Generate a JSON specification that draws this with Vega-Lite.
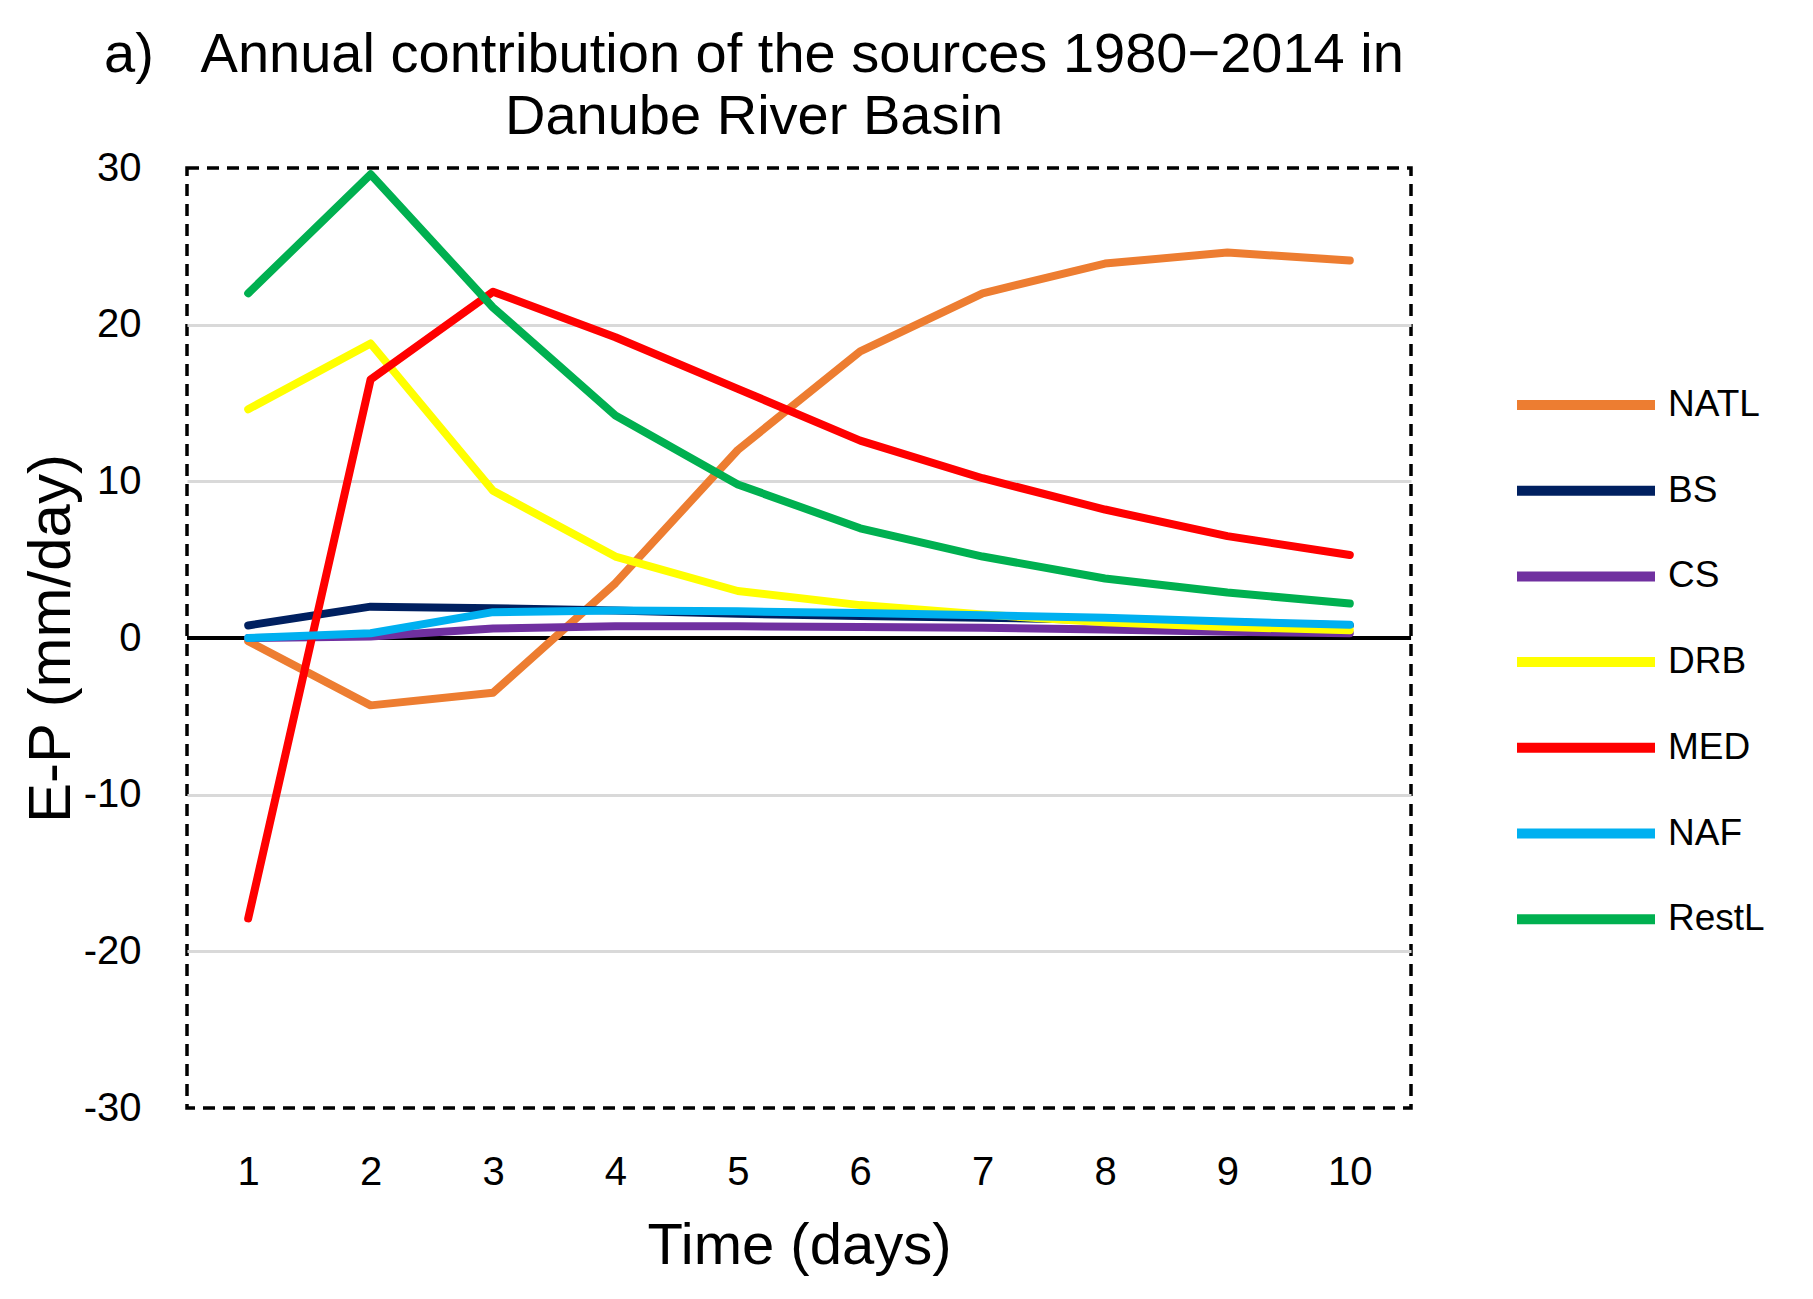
{
  "$schema": "https://vega.github.io/schema/vega-lite/v6.json",
  "width": 1224,
  "height": 940,
  "autosize": "none",
  "padding": {"left": 187, "top": 168, "right": 402, "bottom": 191},
  "background": "white",
  "title": {
    "text": ["a)\u00a0\u00a0\u00a0Annual contribution of the sources 1980\u22122014 in", "Danube River Basin"],
    "font": "Liberation Sans",
    "fontSize": 56,
    "fontWeight": "normal",
    "lineHeight": 62,
    "anchor": "middle",
    "baseline": "top",
    "dx": -45,
    "dy": 38,
    "offset": 40,
    "color": "black"
  },
  "config": {
    "view": {"stroke": "black", "strokeDash": [12, 8], "strokeWidth": 3.5},
    "font": "Liberation Sans"
  },
  "data": {
    "values": [
      {"day": 1, "source": "NATL", "ep": -0.2},
      {"day": 2, "source": "NATL", "ep": -4.3},
      {"day": 3, "source": "NATL", "ep": -3.5},
      {"day": 4, "source": "NATL", "ep": 3.5},
      {"day": 5, "source": "NATL", "ep": 12.0},
      {"day": 6, "source": "NATL", "ep": 18.3},
      {"day": 7, "source": "NATL", "ep": 22.0},
      {"day": 8, "source": "NATL", "ep": 23.9},
      {"day": 9, "source": "NATL", "ep": 24.6},
      {"day": 10, "source": "NATL", "ep": 24.1},
      {"day": 1, "source": "BS", "ep": 0.8},
      {"day": 2, "source": "BS", "ep": 2.0},
      {"day": 3, "source": "BS", "ep": 1.9},
      {"day": 4, "source": "BS", "ep": 1.75},
      {"day": 5, "source": "BS", "ep": 1.55},
      {"day": 6, "source": "BS", "ep": 1.4},
      {"day": 7, "source": "BS", "ep": 1.3},
      {"day": 8, "source": "BS", "ep": 1.15},
      {"day": 9, "source": "BS", "ep": 1.0},
      {"day": 10, "source": "BS", "ep": 0.8},
      {"day": 1, "source": "CS", "ep": 0.0},
      {"day": 2, "source": "CS", "ep": 0.1},
      {"day": 3, "source": "CS", "ep": 0.6},
      {"day": 4, "source": "CS", "ep": 0.75},
      {"day": 5, "source": "CS", "ep": 0.75},
      {"day": 6, "source": "CS", "ep": 0.7},
      {"day": 7, "source": "CS", "ep": 0.65},
      {"day": 8, "source": "CS", "ep": 0.55},
      {"day": 9, "source": "CS", "ep": 0.4},
      {"day": 10, "source": "CS", "ep": 0.3},
      {"day": 1, "source": "DRB", "ep": 14.6},
      {"day": 2, "source": "DRB", "ep": 18.8},
      {"day": 3, "source": "DRB", "ep": 9.4},
      {"day": 4, "source": "DRB", "ep": 5.2},
      {"day": 5, "source": "DRB", "ep": 3.0},
      {"day": 6, "source": "DRB", "ep": 2.1},
      {"day": 7, "source": "DRB", "ep": 1.5},
      {"day": 8, "source": "DRB", "ep": 1.0},
      {"day": 9, "source": "DRB", "ep": 0.7},
      {"day": 10, "source": "DRB", "ep": 0.5},
      {"day": 1, "source": "MED", "ep": -17.9},
      {"day": 2, "source": "MED", "ep": 16.5},
      {"day": 3, "source": "MED", "ep": 22.1},
      {"day": 4, "source": "MED", "ep": 19.2},
      {"day": 5, "source": "MED", "ep": 15.9},
      {"day": 6, "source": "MED", "ep": 12.6},
      {"day": 7, "source": "MED", "ep": 10.2},
      {"day": 8, "source": "MED", "ep": 8.2},
      {"day": 9, "source": "MED", "ep": 6.5},
      {"day": 10, "source": "MED", "ep": 5.3},
      {"day": 1, "source": "NAF", "ep": 0.0},
      {"day": 2, "source": "NAF", "ep": 0.3},
      {"day": 3, "source": "NAF", "ep": 1.65},
      {"day": 4, "source": "NAF", "ep": 1.75},
      {"day": 5, "source": "NAF", "ep": 1.7},
      {"day": 6, "source": "NAF", "ep": 1.6},
      {"day": 7, "source": "NAF", "ep": 1.45},
      {"day": 8, "source": "NAF", "ep": 1.3},
      {"day": 9, "source": "NAF", "ep": 1.05},
      {"day": 10, "source": "NAF", "ep": 0.85},
      {"day": 1, "source": "RestL", "ep": 22.0},
      {"day": 2, "source": "RestL", "ep": 29.6},
      {"day": 3, "source": "RestL", "ep": 21.1},
      {"day": 4, "source": "RestL", "ep": 14.2},
      {"day": 5, "source": "RestL", "ep": 9.8},
      {"day": 6, "source": "RestL", "ep": 7.0},
      {"day": 7, "source": "RestL", "ep": 5.2},
      {"day": 8, "source": "RestL", "ep": 3.8},
      {"day": 9, "source": "RestL", "ep": 2.9},
      {"day": 10, "source": "RestL", "ep": 2.2}
    ]
  },
  "layer": [
    {
      "mark": {"type": "rule", "color": "black", "strokeWidth": 2.5},
      "encoding": {"y": {"datum": 0, "type": "quantitative"}}
    },
    {
      "mark": {"type": "line", "strokeWidth": 8, "strokeCap": "round", "strokeJoin": "round"},
      "encoding": {
        "x": {
          "field": "day",
          "type": "quantitative",
          "scale": {"domain": [0.5, 10.5], "nice": false, "zero": false},
          "axis": {
            "values": [1, 2, 3, 4, 5, 6, 7, 8, 9, 10],
            "title": "Time (days)",
            "titleFont": "Liberation Sans",
            "titleFontSize": 58,
            "titleFontWeight": "normal",
            "titleColor": "black",
            "titleBaseline": "alphabetic",
            "titleY": 155,
            "labelFontSize": 40,
            "labelColor": "black",
            "labelPadding": 44,
            "labelFlush": false,
            "domain": false,
            "ticks": false,
            "grid": false
          }
        },
        "y": {
          "field": "ep",
          "type": "quantitative",
          "scale": {"domain": [-30, 30], "nice": false},
          "axis": {
            "values": [-30, -20, -10, 0, 10, 20, 30],
            "labelExpr": "toString(datum.value)",
            "title": "E-P (mm/day)",
            "titleFont": "Liberation Sans",
            "titleFontSize": 60,
            "titleFontWeight": "normal",
            "titleColor": "black",
            "titleBaseline": "alphabetic",
            "titleX": -118,
            "titleY": 470,
            "labelFontSize": 40,
            "labelColor": "black",
            "labelPadding": 46,
            "domain": false,
            "ticks": false,
            "grid": true,
            "gridColor": {
              "condition": {"test": "abs(datum.value) == 30", "value": "transparent"},
              "value": "#D9D9D9"
            },
            "gridWidth": 3
          }
        },
        "color": {
          "field": "source",
          "type": "nominal",
          "sort": ["NATL", "BS", "CS", "DRB", "MED", "NAF", "RestL"],
          "scale": {
            "domain": ["NATL", "BS", "CS", "DRB", "MED", "NAF", "RestL"],
            "range": ["#ED7D31", "#002060", "#7030A0", "#FFFF00", "#FF0000", "#00B0F0", "#00B050"]
          },
          "legend": {
            "title": null,
            "orient": "none",
            "legendX": 1325,
            "legendY": 217,
            "padding": 0,
            "symbolType": "stroke",
            "symbolSize": 19044,
            "symbolStrokeWidth": 10,
            "clipHeight": 40,
            "rowPadding": 45.7,
            "labelOffset": 8,
            "labelFontSize": 37,
            "labelColor": "black",
            "labelLimit": 300
          }
        }
      }
    }
  ]
}
